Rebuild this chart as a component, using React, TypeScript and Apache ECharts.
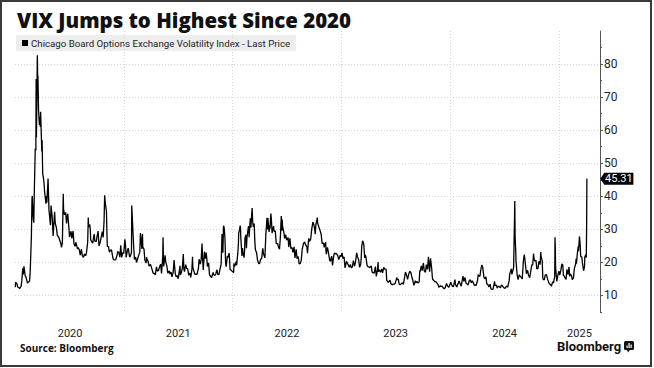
import React, { useEffect, useRef } from "react";
import * as echarts from "echarts";

const TITLE = "VIX Jumps to Highest Since 2020";
const SERIES_NAME = "Chicago Board Options Exchange Volatility Index - Last Price";
const SOURCE = "Source: Bloomberg";

const y2020: [string, number][] = [["2020-01-02",12.47],["2020-01-03",14.02],["2020-01-08",13.45],["2020-01-10",12.56],["2020-01-14",12.39],["2020-01-17",12.10],["2020-01-22",12.91],["2020-01-24",14.56],["2020-01-27",18.23],["2020-01-29",16.39],["2020-01-31",18.84],["2020-02-04",16.05],["2020-02-07",15.47],["2020-02-12",13.74],["2020-02-14",13.68],["2020-02-19",14.38],["2020-02-21",17.08],["2020-02-24",25.03],["2020-02-25",27.85],["2020-02-27",39.16],["2020-02-28",40.11],["2020-03-02",33.42],["2020-03-04",31.99],["2020-03-06",41.94],["2020-03-09",54.46],["2020-03-11",53.90],["2020-03-12",75.47],["2020-03-13",57.83],["2020-03-16",82.69],["2020-03-17",75.91],["2020-03-18",76.45],["2020-03-20",66.04],["2020-03-23",61.59],["2020-03-25",63.95],["2020-03-26",61.00],["2020-03-27",65.54],["2020-03-31",53.54],["2020-04-01",57.06],["2020-04-03",46.80],["2020-04-06",45.24],["2020-04-08",43.35],["2020-04-09",41.67],["2020-04-14",37.76],["2020-04-16",40.11],["2020-04-17",38.15],["2020-04-21",45.41],["2020-04-24",35.93],["2020-04-29",31.23],["2020-05-01",37.19],["2020-05-05",33.61],["2020-05-08",27.98],["2020-05-13",35.28],["2020-05-15",31.89],["2020-05-19",30.53],["2020-05-22",28.16],["2020-05-27",27.62],["2020-05-29",27.51],["2020-06-03",25.66],["2020-06-05",24.52],["2020-06-08",25.81],["2020-06-11",40.79],["2020-06-12",36.09],["2020-06-15",34.40],["2020-06-19",35.12],["2020-06-22",31.77],["2020-06-24",33.84],["2020-06-26",34.73],["2020-06-30",30.43],["2020-07-02",27.68],["2020-07-07",29.43],["2020-07-10",27.29],["2020-07-14",29.52],["2020-07-17",25.68],["2020-07-21",24.84],["2020-07-23",26.08],["2020-07-24",25.84],["2020-07-29",24.10],["2020-07-31",24.46],["2020-08-04",23.76],["2020-08-07",22.21],["2020-08-11",24.03],["2020-08-14",22.05],["2020-08-18",21.51],["2020-08-21",22.54],["2020-08-25",22.03],["2020-08-28",22.96],["2020-09-01",26.12],["2020-09-03",33.60],["2020-09-04",30.75],["2020-09-08",31.46],["2020-09-10",29.71],["2020-09-11",26.87],["2020-09-16",26.04],["2020-09-18",25.83],["2020-09-21",27.78],["2020-09-23",28.58],["2020-09-25",26.38],["2020-09-30",26.37],["2020-10-02",27.63],["2020-10-06",29.48],["2020-10-09",25.00],["2020-10-13",26.07],["2020-10-16",27.41],["2020-10-20",29.35],["2020-10-23",27.55],["2020-10-26",32.46],["2020-10-28",40.28],["2020-10-30",38.02],["2020-11-03",35.55],["2020-11-05",27.58],["2020-11-06",24.86],["2020-11-10",24.80],["2020-11-13",23.10],["2020-11-18",23.84],["2020-11-20",23.70],["2020-11-25",21.25],["2020-11-27",20.84],["2020-12-01",20.77],["2020-12-04",20.79],["2020-12-09",22.27],["2020-12-11",23.31],["2020-12-15",22.89],["2020-12-18",21.57],["2020-12-21",25.16],["2020-12-24",21.53],["2020-12-29",23.08],["2020-12-31",22.75]];

const y2021: [string, number][] = [["2021-01-04",26.97],["2021-01-06",25.07],["2021-01-08",21.56],["2021-01-12",23.33],["2021-01-15",24.34],["2021-01-20",21.58],["2021-01-22",21.91],["2021-01-26",23.02],["2021-01-27",37.21],["2021-01-29",33.09],["2021-02-02",25.56],["2021-02-05",20.87],["2021-02-09",21.63],["2021-02-12",19.97],["2021-02-17",21.50],["2021-02-19",22.05],["2021-02-23",23.11],["2021-02-25",28.89],["2021-02-26",27.95],["2021-03-02",24.10],["2021-03-04",28.57],["2021-03-05",24.66],["2021-03-09",24.03],["2021-03-12",20.69],["2021-03-16",19.79],["2021-03-18",21.58],["2021-03-19",20.95],["2021-03-23",20.30],["2021-03-26",18.86],["2021-03-31",19.40],["2021-04-05",17.91],["2021-04-09",16.69],["2021-04-13",16.65],["2021-04-16",16.25],["2021-04-20",18.68],["2021-04-23",17.33],["2021-04-27",17.56],["2021-04-30",18.61],["2021-05-04",19.48],["2021-05-07",16.69],["2021-05-11",21.84],["2021-05-12",27.59],["2021-05-14",18.81],["2021-05-18",21.34],["2021-05-19",22.18],["2021-05-21",20.15],["2021-05-25",18.84],["2021-05-28",16.76],["2021-06-02",17.48],["2021-06-04",16.42],["2021-06-08",17.07],["2021-06-11",15.65],["2021-06-15",17.02],["2021-06-18",20.70],["2021-06-22",16.66],["2021-06-25",15.62],["2021-06-29",16.02],["2021-07-02",15.07],["2021-07-08",19.00],["2021-07-09",16.18],["2021-07-13",17.12],["2021-07-16",18.45],["2021-07-19",22.50],["2021-07-21",17.91],["2021-07-23",17.20],["2021-07-27",19.36],["2021-07-30",18.24],["2021-08-03",18.04],["2021-08-06",16.15],["2021-08-10",16.79],["2021-08-13",15.45],["2021-08-17",17.91],["2021-08-19",21.67],["2021-08-20",18.56],["2021-08-24",17.22],["2021-08-27",16.39],["2021-08-31",16.48],["2021-09-03",16.41],["2021-09-08",18.31],["2021-09-10",20.95],["2021-09-14",19.46],["2021-09-17",20.81],["2021-09-20",25.71],["2021-09-22",20.87],["2021-09-24",17.75],["2021-09-28",23.25],["2021-09-30",23.14],["2021-10-01",21.15],["2021-10-04",22.96],["2021-10-06",21.00],["2021-10-08",18.77],["2021-10-12",19.85],["2021-10-15",16.30],["2021-10-19",15.70],["2021-10-22",15.43],["2021-10-27",16.98],["2021-10-29",16.26],["2021-11-02",16.03],["2021-11-05",16.48],["2021-11-09",17.78],["2021-11-12",16.29],["2021-11-16",16.37],["2021-11-19",17.91],["2021-11-23",19.38],["2021-11-26",28.62],["2021-11-29",22.96],["2021-11-30",27.19],["2021-12-01",31.12],["2021-12-03",30.67],["2021-12-06",27.18],["2021-12-08",19.90],["2021-12-10",18.69],["2021-12-14",21.89],["2021-12-17",21.57],["2021-12-20",22.87],["2021-12-23",17.96],["2021-12-28",17.54],["2021-12-31",17.22]];

const y2022: [string, number][] = [["2022-01-04",16.91],["2022-01-05",19.73],["2022-01-07",18.76],["2022-01-10",19.40],["2022-01-13",20.31],["2022-01-14",19.19],["2022-01-18",22.79],["2022-01-20",25.59],["2022-01-21",28.85],["2022-01-24",29.90],["2022-01-26",31.16],["2022-01-27",30.49],["2022-01-28",27.66],["2022-02-01",21.96],["2022-02-03",24.35],["2022-02-04",23.22],["2022-02-08",21.44],["2022-02-10",23.91],["2022-02-11",27.36],["2022-02-14",28.33],["2022-02-16",24.29],["2022-02-18",27.75],["2022-02-23",31.02],["2022-02-24",30.32],["2022-02-25",27.59],["2022-03-01",33.32],["2022-03-03",30.48],["2022-03-04",31.98],["2022-03-07",36.45],["2022-03-09",32.45],["2022-03-11",30.75],["2022-03-14",31.77],["2022-03-16",26.67],["2022-03-18",23.87],["2022-03-22",22.94],["2022-03-25",20.81],["2022-03-29",19.63],["2022-04-01",19.63],["2022-04-05",21.03],["2022-04-08",21.16],["2022-04-12",24.26],["2022-04-14",22.70],["2022-04-19",21.37],["2022-04-22",28.21],["2022-04-26",33.52],["2022-04-28",29.99],["2022-04-29",33.40],["2022-05-03",29.25],["2022-05-05",31.20],["2022-05-06",30.19],["2022-05-09",34.75],["2022-05-11",32.56],["2022-05-13",28.87],["2022-05-18",30.96],["2022-05-20",29.43],["2022-05-24",29.45],["2022-05-27",25.72],["2022-06-01",25.69],["2022-06-03",24.79],["2022-06-07",24.02],["2022-06-10",27.75],["2022-06-13",34.02],["2022-06-15",29.62],["2022-06-16",32.95],["2022-06-17",31.13],["2022-06-22",28.95],["2022-06-24",27.23],["2022-06-28",28.36],["2022-07-01",26.70],["2022-07-06",27.54],["2022-07-08",24.64],["2022-07-12",27.29],["2022-07-15",24.23],["2022-07-19",24.50],["2022-07-22",23.03],["2022-07-26",24.69],["2022-07-29",21.33],["2022-08-02",23.93],["2022-08-05",21.15],["2022-08-09",21.77],["2022-08-12",19.53],["2022-08-16",19.69],["2022-08-19",20.60],["2022-08-22",23.80],["2022-08-26",25.56],["2022-08-30",26.21],["2022-09-02",25.47],["2022-09-07",24.64],["2022-09-09",22.79],["2022-09-13",27.27],["2022-09-16",26.30],["2022-09-20",27.16],["2022-09-23",29.92],["2022-09-27",32.18],["2022-09-30",31.62],["2022-10-03",30.10],["2022-10-05",28.55],["2022-10-07",31.36],["2022-10-12",33.57],["2022-10-13",31.94],["2022-10-14",32.02],["2022-10-18",30.50],["2022-10-21",29.69],["2022-10-25",28.46],["2022-10-28",25.75],["2022-11-02",25.86],["2022-11-04",24.55],["2022-11-09",26.09],["2022-11-10",23.53],["2022-11-11",22.52],["2022-11-15",24.54],["2022-11-18",23.12],["2022-11-23",20.35],["2022-11-25",20.50],["2022-11-29",21.89],["2022-12-02",19.06],["2022-12-06",22.00],["2022-12-09",22.83],["2022-12-13",22.55],["2022-12-16",22.62],["2022-12-20",21.97],["2022-12-23",20.87],["2022-12-28",22.14],["2022-12-30",21.67]];

const y2023: [string, number][] = [["2023-01-03",22.90],["2023-01-06",21.13],["2023-01-10",21.65],["2023-01-13",18.35],["2023-01-18",20.34],["2023-01-20",19.85],["2023-01-24",19.20],["2023-01-27",18.51],["2023-01-31",19.40],["2023-02-02",18.73],["2023-02-03",18.33],["2023-02-07",18.66],["2023-02-10",20.53],["2023-02-14",18.91],["2023-02-17",20.02],["2023-02-21",22.87],["2023-02-24",21.67],["2023-02-28",20.70],["2023-03-03",18.49],["2023-03-07",19.59],["2023-03-09",22.61],["2023-03-10",24.80],["2023-03-13",26.52],["2023-03-15",26.14],["2023-03-17",25.51],["2023-03-20",21.38],["2023-03-22",22.26],["2023-03-24",21.74],["2023-03-28",19.12],["2023-03-31",18.70],["2023-04-04",18.58],["2023-04-06",18.40],["2023-04-11",18.97],["2023-04-14",17.07],["2023-04-18",16.83],["2023-04-21",16.77],["2023-04-25",18.76],["2023-04-28",15.78],["2023-05-02",17.78],["2023-05-04",20.09],["2023-05-05",17.19],["2023-05-09",17.71],["2023-05-12",17.03],["2023-05-16",17.99],["2023-05-19",16.81],["2023-05-23",18.53],["2023-05-26",17.95],["2023-05-31",17.94],["2023-06-02",14.60],["2023-06-07",13.94],["2023-06-09",13.83],["2023-06-13",14.61],["2023-06-16",13.54],["2023-06-21",13.20],["2023-06-23",13.44],["2023-06-27",13.43],["2023-06-30",13.59],["2023-07-06",15.44],["2023-07-07",14.83],["2023-07-11",14.84],["2023-07-14",13.34],["2023-07-18",13.30],["2023-07-21",13.60],["2023-07-25",13.86],["2023-07-28",13.33],["2023-08-02",16.09],["2023-08-04",17.10],["2023-08-08",15.99],["2023-08-11",14.84],["2023-08-15",16.46],["2023-08-18",17.30],["2023-08-22",16.97],["2023-08-25",15.68],["2023-08-29",14.45],["2023-09-01",13.09],["2023-09-06",14.45],["2023-09-08",13.84],["2023-09-12",14.23],["2023-09-15",13.79],["2023-09-19",14.11],["2023-09-21",17.54],["2023-09-22",17.20],["2023-09-26",18.94],["2023-09-29",17.52],["2023-10-03",19.78],["2023-10-06",17.45],["2023-10-10",17.03],["2023-10-13",19.32],["2023-10-17",17.88],["2023-10-20",21.71],["2023-10-24",17.19],["2023-10-27",21.27],["2023-10-31",18.14],["2023-11-02",15.66],["2023-11-03",14.91],["2023-11-08",14.45],["2023-11-10",14.17],["2023-11-14",14.16],["2023-11-17",13.80],["2023-11-21",13.35],["2023-11-24",12.46],["2023-11-29",12.98],["2023-12-01",12.63],["2023-12-05",12.85],["2023-12-08",12.35],["2023-12-12",12.07],["2023-12-15",12.28],["2023-12-20",13.67],["2023-12-22",13.03],["2023-12-27",12.43],["2023-12-29",12.45]];

const y2024: [string, number][] = [["2024-01-03",14.04],["2024-01-05",13.35],["2024-01-09",12.76],["2024-01-12",12.70],["2024-01-17",14.79],["2024-01-19",13.30],["2024-01-23",12.55],["2024-01-26",13.26],["2024-01-31",14.35],["2024-02-02",13.85],["2024-02-07",12.83],["2024-02-09",12.93],["2024-02-13",15.85],["2024-02-16",14.24],["2024-02-20",15.42],["2024-02-23",13.75],["2024-02-27",13.43],["2024-03-01",13.11],["2024-03-05",14.46],["2024-03-08",14.74],["2024-03-12",13.88],["2024-03-15",14.41],["2024-03-19",13.82],["2024-03-22",13.06],["2024-03-26",13.24],["2024-03-28",13.01],["2024-04-02",14.61],["2024-04-04",16.35],["2024-04-05",16.03],["2024-04-10",15.80],["2024-04-12",17.31],["2024-04-16",19.23],["2024-04-19",18.71],["2024-04-23",15.69],["2024-04-26",15.03],["2024-04-30",15.65],["2024-05-03",13.49],["2024-05-07",13.23],["2024-05-10",12.55],["2024-05-14",13.42],["2024-05-17",11.99],["2024-05-21",11.86],["2024-05-24",11.93],["2024-05-29",14.28],["2024-05-31",12.92],["2024-06-04",13.16],["2024-06-07",12.22],["2024-06-11",12.85],["2024-06-14",12.66],["2024-06-18",12.30],["2024-06-21",13.20],["2024-06-25",12.84],["2024-06-28",12.44],["2024-07-03",12.09],["2024-07-05",12.48],["2024-07-10",12.85],["2024-07-12",12.46],["2024-07-17",14.48],["2024-07-19",16.52],["2024-07-24",18.04],["2024-07-26",16.39],["2024-07-30",17.69],["2024-08-01",18.59],["2024-08-02",23.39],["2024-08-05",38.57],["2024-08-06",27.71],["2024-08-07",27.85],["2024-08-08",23.79],["2024-08-09",20.37],["2024-08-13",16.12],["2024-08-16",14.80],["2024-08-20",16.27],["2024-08-23",15.86],["2024-08-27",15.43],["2024-08-30",15.00],["2024-09-03",20.72],["2024-09-06",22.38],["2024-09-10",19.08],["2024-09-13",16.56],["2024-09-17",17.61],["2024-09-20",16.15],["2024-09-24",15.39],["2024-09-27",16.96],["2024-10-01",19.26],["2024-10-04",19.21],["2024-10-07",22.64],["2024-10-09",20.86],["2024-10-11",20.46],["2024-10-15",20.64],["2024-10-18",18.03],["2024-10-22",18.20],["2024-10-25",20.33],["2024-10-29",19.34],["2024-10-31",23.16],["2024-11-01",21.88],["2024-11-05",20.49],["2024-11-07",15.20],["2024-11-08",14.94],["2024-11-12",14.71],["2024-11-15",16.14],["2024-11-19",16.35],["2024-11-22",15.24],["2024-11-26",14.10],["2024-11-29",13.51],["2024-12-03",13.30],["2024-12-06",12.77],["2024-12-10",14.18],["2024-12-13",13.81],["2024-12-17",15.87],["2024-12-18",27.62],["2024-12-19",24.09],["2024-12-20",18.36],["2024-12-24",14.27],["2024-12-27",15.95],["2024-12-31",17.35]];

const y2025: [string, number][] = [["2025-01-03",16.13],["2025-01-07",17.82],["2025-01-10",19.54],["2025-01-13",19.19],["2025-01-15",16.12],["2025-01-17",15.97],["2025-01-22",15.10],["2025-01-24",14.85],["2025-01-27",17.90],["2025-01-29",16.56],["2025-01-31",16.43],["2025-02-03",18.62],["2025-02-05",15.77],["2025-02-07",16.54],["2025-02-11",16.08],["2025-02-14",14.77],["2025-02-18",15.35],["2025-02-21",18.21],["2025-02-25",19.43],["2025-02-27",21.13],["2025-02-28",19.63],["2025-03-03",22.78],["2025-03-04",23.51],["2025-03-06",24.87],["2025-03-07",23.37],["2025-03-10",27.86],["2025-03-11",26.92],["2025-03-13",24.66],["2025-03-14",21.77],["2025-03-18",21.70],["2025-03-20",19.80],["2025-03-21",19.28],["2025-03-24",17.48],["2025-03-26",18.33],["2025-03-27",18.69],["2025-03-28",21.65],["2025-03-31",22.28],["2025-04-01",21.77],["2025-04-02",21.51],["2025-04-03",30.02],["2025-04-04",45.31]];

const X_MIN = "2020-01-01";
const X_MAX = "2025-05-18";
const YEAR_STARTS = ["2021-01-01", "2022-01-01", "2023-01-01", "2024-01-01", "2025-01-01"];
const YEAR_LABEL_POS = ["2020-07-04", "2021-07-02", "2022-07-02", "2023-07-02", "2024-07-02", "2025-03-10"];
const Y_MIN = 5;
const Y_MAX = 90;
const Y_TICKS = [10, 20, 30, 40, 50, 60, 70, 80];
const Y_MINOR_TICKS = [5, 15, 25, 35, 45, 55, 65, 75, 85];

const toTime = (s: string) => Date.UTC(+s.slice(0, 4), +s.slice(5, 7) - 1, +s.slice(8, 10));

export default function App() {
  const ref = useRef<HTMLDivElement>(null);

  useEffect(() => {
    document.body.style.margin = "0";
    if (!ref.current) return;
    const chart = echarts.init(ref.current, null, { renderer: "svg" });
    const raw = [...y2020, ...y2021, ...y2022, ...y2023, ...y2024, ...y2025];
    const data = raw.map(([d, v]) => [toTime(d), v]);
    const last = data[data.length - 1];
    const font = "Roboto, 'Noto Sans', sans-serif";
    const dotted = { color: "#d6d6d6", type: [1, 2], width: 1 };

    chart.setOption({
      animation: false,
      backgroundColor: "#ffffff",
      grid: { left: 15, right: 54, top: 31, bottom: 56, containLabel: false },
      legend: {
        show: true,
        data: [SERIES_NAME],
        left: 16,
        top: 35,
        z: -1,
        icon: "rect",
        itemWidth: 6,
        itemHeight: 6,
        padding: [3, 6, 3, 6],
        backgroundColor: "#ededed",
        selectedMode: false,
        textStyle: {
          fontSize: 9.7,
          color: "#222",
          fontFamily: "Roboto, sans-serif",
          padding: [0, 0, 0, -2],
        },
      },
      xAxis: {
        type: "value",
        min: toTime(X_MIN),
        max: toTime(X_MAX),
        axisLine: { show: false },
        axisTick: { show: false, customValues: YEAR_STARTS.map(toTime) },
        splitLine: { show: true, lineStyle: dotted },
        axisLabel: {
          customValues: YEAR_LABEL_POS.map(toTime),
          formatter: (v: number) => String(new Date(v).getUTCFullYear()),
          fontSize: 11,
          color: "#222",
          margin: 16,
          fontFamily: font,
        },
      },
      yAxis: [
        {
          type: "value",
          position: "right",
          min: Y_MIN,
          max: Y_MAX,
          axisLine: { show: true, lineStyle: { color: "#555", width: 1 } },
          axisTick: {
            show: true,
            length: 3,
            customValues: Y_TICKS,
            lineStyle: { color: "#555" },
          },
          axisLabel: {
            customValues: Y_TICKS,
            fontSize: 12,
            color: "#222",
            margin: 4,
            fontFamily: font,
          },
          splitLine: { show: true, lineStyle: dotted },
        },
        {
          type: "value",
          position: "right",
          min: Y_MIN,
          max: Y_MAX,
          axisLine: { show: false },
          axisTick: {
            show: true,
            length: 2,
            customValues: Y_MINOR_TICKS,
            lineStyle: { color: "#555" },
          },
          axisLabel: { show: false },
          splitLine: { show: false },
        },
      ],
      series: [
        {
          name: SERIES_NAME,
          type: "line",
          data,
          showSymbol: false,
          symbol: "none",
          lineStyle: { color: "#000", width: 1.3 },
          itemStyle: { color: "#000" },
          markPoint: {
            symbol: "path://M0,6 L4,0 L34,0 L34,12 L4,12 Z",
            symbolSize: [33, 12],
            symbolKeepAspect: false,
            symbolOffset: [30, 0],
            itemStyle: { color: "#000" },
            label: {
              show: true,
              position: "inside",
              formatter: (p: any) => Number(p.value).toFixed(2),
              color: "#fff",
              fontSize: 11,
              fontFamily: font,
              offset: [2, 0],
            },
            data: [{ coord: last, value: last[1] }],
          },
        },
      ],
      graphic: [
        {
          type: "rect",
          silent: true,
          shape: { x: 1, y: 1, width: 650, height: 365 },
          style: { fill: "none", stroke: "#3a3a3a", lineWidth: 2 },
        },
        {
          type: "text",
          x: 17,
          y: 20,
          style: {
            text: TITLE,
            fontSize: 20.4,
            fontWeight: 800,
            fontFamily: "'Open Sans', sans-serif",
            fill: "#111",
            verticalAlign: "middle",
          },
        },
        {
          type: "text",
          x: 20,
          y: 348,
          style: {
            text: SOURCE,
            fontSize: 10,
            fontWeight: "bold",
            fontFamily: "'Open Sans', sans-serif",
            fill: "#111",
            verticalAlign: "middle",
          },
        },
        {
          type: "text",
          x: 557,
          y: 346,
          style: {
            text: "Bloomberg",
            fontSize: 13,
            fontWeight: "bold",
            fontFamily: font,
            fill: "#111",
            verticalAlign: "middle",
          },
        },
        {
          type: "rect",
          shape: { x: 624, y: 341, width: 10, height: 9, r: 1.5 },
          style: { fill: "#111" },
        },
        {
          type: "polygon",
          shape: { points: [[627, 350], [630, 350], [628, 352.5]] },
          style: { fill: "#111" },
        },
        {
          type: "rect",
          shape: { x: 626.5, y: 345.5, width: 1.2, height: 2.5 },
          style: { fill: "#fff" },
        },
        {
          type: "rect",
          shape: { x: 628.5, y: 343, width: 1.2, height: 5 },
          style: { fill: "#fff" },
        },
        {
          type: "rect",
          shape: { x: 630.5, y: 344.5, width: 1.2, height: 3.5 },
          style: { fill: "#fff" },
        },
      ],
    });

    return () => chart.dispose();
  }, []);

  return <div ref={ref} style={{ width: 654, height: 368 }} />;
}
